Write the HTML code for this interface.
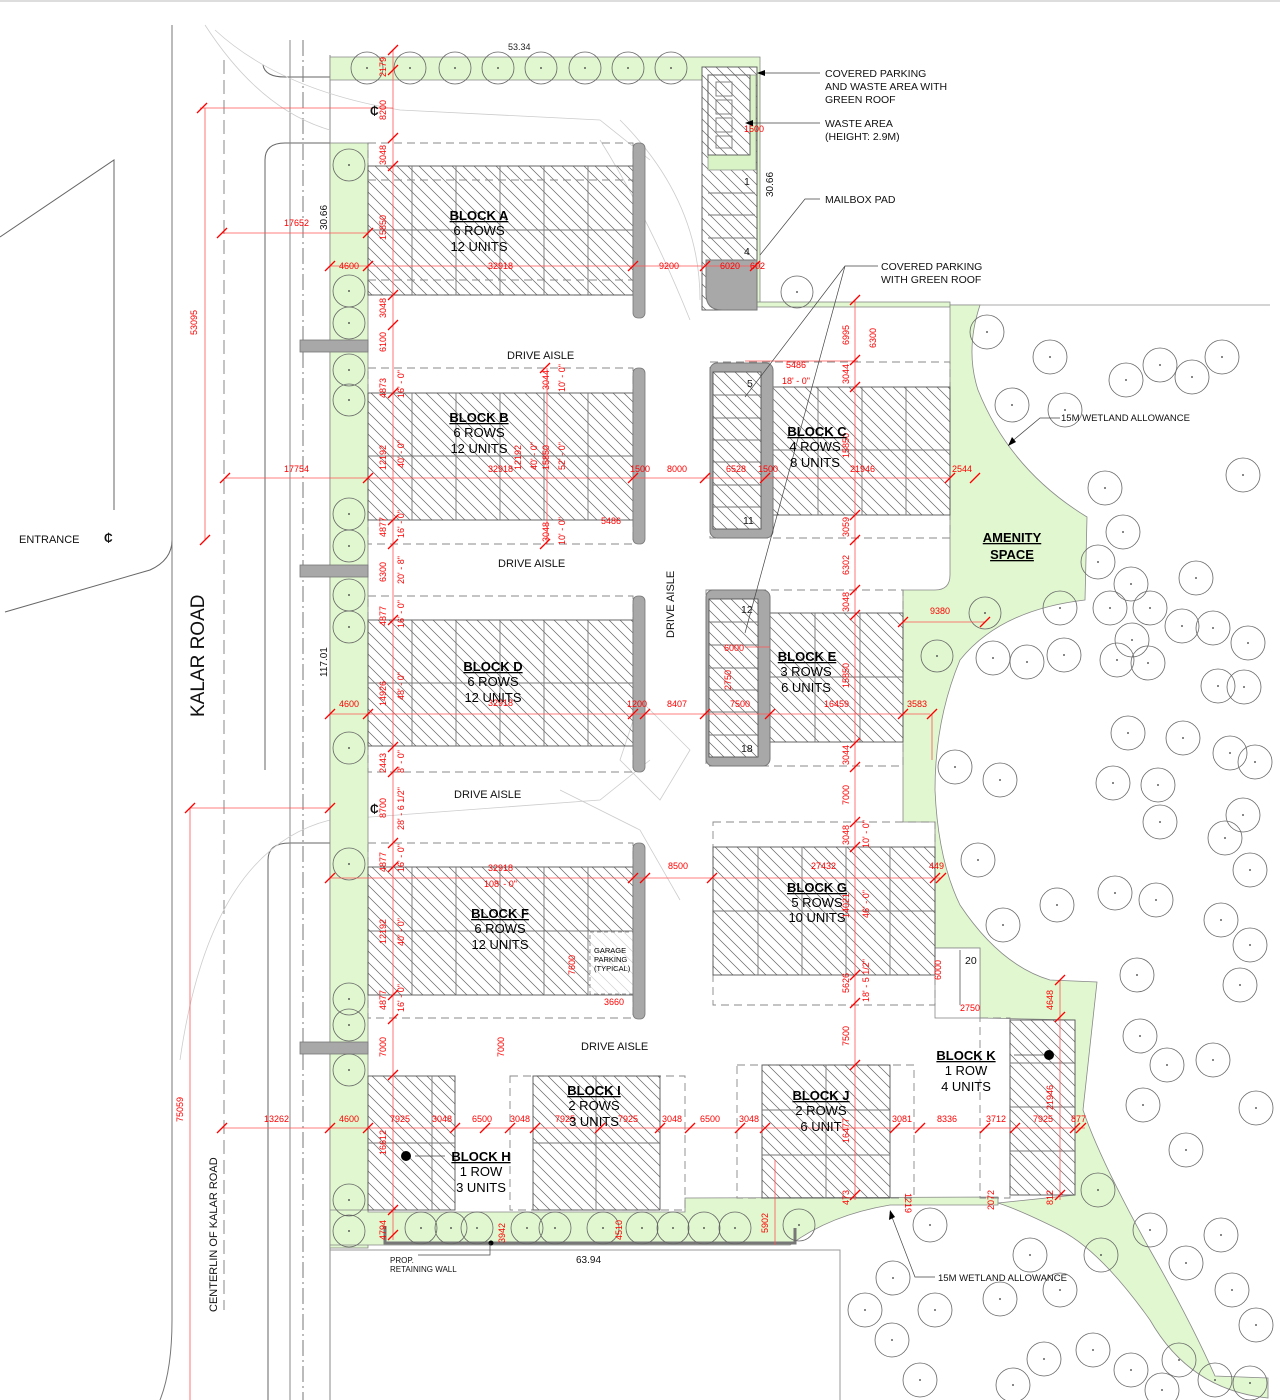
<!DOCTYPE html>
<html><head><meta charset="utf-8"><style>
html,body{margin:0;padding:0;background:#fff;}
svg{display:block;font-family:"Liberation Sans",sans-serif;}
.d{fill:#f00;font-size:9px;}
.dl{stroke:#f55;stroke-width:0.8;fill:none;}
.tk{stroke:#f00;stroke-width:1.3;}
.bt{font-size:13px;font-weight:bold;text-decoration:underline;}
.bs{font-size:13px;}
.lb{font-size:10.5px;fill:#111;}
.g{fill:#e0f7cf;stroke:#888;stroke-width:0.8;}
.bl{fill:url(#h);stroke:#555;stroke-width:0.9;}
.gr{stroke:#777;stroke-width:0.9;fill:none;}
.ds{stroke:#888;stroke-width:0.9;fill:none;stroke-dasharray:8 5;}
.rd{stroke:#666;stroke-width:1;fill:none;}
.gy{fill:#a8a8a8;stroke:#777;stroke-width:0.8;}
</style></head><body>
<svg width="1280" height="1400" viewBox="0 0 1280 1400" xmlns="http://www.w3.org/2000/svg">
<defs>
<pattern id="h" patternUnits="userSpaceOnUse" width="11" height="11">
<path d="M-2,-2 L13,13 M-2,9 L2,13 M9,-2 L13,2" stroke="#666" stroke-width="0.7"/>
</pattern>
<g id="t"><circle r="16" fill="none" stroke="#666" stroke-width="0.8"/><circle r="0.9" fill="#333"/></g>
<g id="s"><circle r="17" fill="none" stroke="#666" stroke-width="0.8"/><circle r="0.9" fill="#333"/></g>
</defs>
<line x1="0" y1="1" x2="1280" y2="1" stroke="#bbb"/>

<!-- road lines -->
<path class="rd" d="M0,237 L114,160 L114,510"/>
<path class="rd" d="M5,612 L150,570 Q172,560 172,540"/>
<line x1="172" y1="25" x2="172" y2="1320" stroke="#777"/>
<path d="M172,1320 Q172,1370 160,1400" stroke="#777" fill="none"/>
<line x1="224" y1="60" x2="224" y2="1310" stroke="#888" stroke-dasharray="14 6"/>
<path class="rd" d="M265,770 L265,160 Q265,143 285,143 L330,143"/>
<path class="rd" d="M268,1400 L268,860 Q268,843 290,843 L330,843"/>
<path class="rd" d="M263,65 Q265,77 285,77 L330,77"/>
<line x1="290" y1="40" x2="290" y2="1400" stroke="#888"/>
<line x1="303" y1="40" x2="303" y2="1400" stroke="#777" stroke-dasharray="16 4 2 4"/>
<line x1="330" y1="55" x2="330" y2="1400" stroke="#888"/>
<path d="M330,1250 L840,1250 L840,1400" stroke="#999" fill="none"/>
<line x1="760" y1="305" x2="1270" y2="305" stroke="#aaa"/>
<!-- faint turning templates -->
<g stroke="#ccc" fill="none" stroke-width="0.8">
<path d="M205,25 Q260,110 330,130 M215,30 Q280,90 400,110 L600,120 L650,160"/>
<path d="M600,140 Q650,220 690,320 M620,120 Q700,200 700,300"/>
<path d="M180,1060 Q210,850 330,820 L600,800 L650,760 M560,790 L640,830 L680,900"/>
<path d="M640,700 L690,750 L660,800 L620,760 Z"/>
</g>

<!-- green areas -->
<path class="g" d="M330,57 L760,57 L760,305 L757,305 L757,80 L330,80 Z"/>
<rect class="g" x="330" y="143" width="38" height="1105"/>
<path class="g" d="M330,1210 L368,1210 L368,1212 L685,1212 L685,1198 L998,1197 L998,1205 L890,1205 Q830,1215 790,1245 L330,1245 Z"/>
<rect class="g" x="757" y="302" width="193" height="5"/>
<path class="g" d="M950,305 L980,305 Q965,350 978,390 Q1010,470 1087,517 L1085,600 Q1000,610 960,660 Q935,720 935,790 Q938,860 960,905 Q1000,965 1050,980 L1097,982 L1083,1110 Q1100,1160 1150,1250 Q1190,1320 1215,1376 L1268,1378 L1268,1398 Q1190,1390 1150,1320 Q1100,1250 1060,1230 Q1020,1210 998,1203 L1075,1195 L1075,1020 L980,1018 L980,948 L935,948 L935,822 L903,822 L903,590 L935,590 Q950,590 950,575 Z"/>
<!-- notch by 20 -->
<rect x="935" y="948" width="45" height="70" fill="#fff" stroke="#888" stroke-width="0.8"/>
<line x1="960" y1="950" x2="960" y2="1005" stroke="#777"/>
<text x="965" y="964" class="lb" font-size="11">20</text>

<!-- Block A -->
<rect class="ds" x="368" y="143" width="265" height="152"/>
<rect class="bl" x="368" y="166" width="265" height="129"/>
<g class="gr"><path d="M412,166V295M456,166V295M500,166V295M544,166V295M588,166V295M368,230H633"/></g>
<path class="ds" d="M368,180H633M368,280H633"/>
<rect class="gy" x="633" y="143" width="12" height="175" rx="5"/>
<!-- Block B -->
<rect class="ds" x="368" y="368" width="265" height="176"/>
<rect class="bl" x="368" y="393" width="265" height="127"/>
<g class="gr"><path d="M412,393V520M456,393V520M500,393V520M544,393V520M588,393V520M368,456H633"/></g>
<rect class="gy" x="633" y="368" width="12" height="176" rx="5"/>
<!-- Block D -->
<rect class="ds" x="368" y="596" width="265" height="176"/>
<rect class="bl" x="368" y="620" width="265" height="126"/>
<g class="gr"><path d="M412,620V746M456,620V746M500,620V746M544,620V746M588,620V746M368,683H633"/></g>
<rect class="gy" x="633" y="596" width="12" height="176" rx="5"/>
<!-- Block F -->
<rect class="ds" x="368" y="843" width="265" height="175"/>
<rect class="bl" x="368" y="867" width="265" height="128"/>
<g class="gr"><path d="M412,867V995M456,867V995M500,867V995M544,867V995M588,867V995M368,931H633"/></g>
<rect x="590" y="932" width="43" height="62" fill="#fff" fill-opacity="0.7" stroke="#999" stroke-dasharray="4 3"/>
<text x="594" y="953" font-size="7.5">GARAGE</text><text x="594" y="962" font-size="7.5">PARKING</text><text x="594" y="971" font-size="7.5">(TYPICAL)</text>
<rect class="gy" x="633" y="843" width="12" height="176" rx="5"/>
<!-- Block C -->
<rect class="ds" x="710" y="362" width="240" height="176"/>
<rect class="bl" x="773" y="387" width="177" height="128"/>
<g class="gr"><path d="M818,387V515M862,387V515M906,387V515M773,450H950"/></g>
<rect x="710" y="363" width="63" height="175" rx="7" fill="#a8a8a8" stroke="#777"/>
<rect x="713" y="372" width="48" height="157" fill="#fff"/>
<rect class="bl" x="713" y="372" width="48" height="157"/>
<g class="gr"><path d="M713,395H761M713,418H761M713,440H761M713,462H761M713,485H761M713,507H761"/></g>
<text x="747" y="387" class="lb">5</text><text x="743" y="524" class="lb">11</text>
<!-- Block E -->
<rect class="ds" x="706" y="590" width="197" height="176"/>
<rect class="bl" x="770" y="613" width="133" height="129"/>
<g class="gr"><path d="M815,613V742M860,613V742M770,677H903"/></g>
<rect x="706" y="590" width="64" height="176" rx="7" fill="#a8a8a8" stroke="#777"/>
<rect x="709" y="599" width="49" height="158" fill="#fff"/>
<rect class="bl" x="709" y="599" width="49" height="158"/>
<g class="gr"><path d="M709,622H758M709,645H758M709,668H758M709,690H758M709,712H758M709,735H758"/></g>
<text x="741" y="613" class="lb">12</text><text x="741" y="752" class="lb">18</text>
<!-- Block G -->
<rect class="ds" x="713" y="822" width="222" height="183"/>
<rect class="bl" x="713" y="847" width="222" height="128"/>
<g class="gr"><path d="M758,847V975M802,847V975M846,847V975M890,847V975M713,911H935"/></g>
<!-- Block H -->
<rect x="368" y="1076" width="87" height="134" fill="#fff"/>
<rect class="bl" x="368" y="1076" width="87" height="134"/>
<g class="gr"><path d="M368,1143H455M432,1076V1210"/></g>
<circle cx="406" cy="1156" r="5" fill="#000"/>
<!-- Block I -->
<rect class="ds" x="510" y="1076" width="175" height="134"/>
<rect class="bl" x="533" y="1076" width="127" height="134"/>
<g class="gr"><path d="M596,1076V1210M533,1143H660"/></g>
<!-- Block J -->
<rect class="ds" x="737" y="1065" width="177" height="133"/>
<rect class="bl" x="762" y="1065" width="128" height="133"/>
<g class="gr"><path d="M826,1065V1198M762,1110H890M762,1155H890"/></g>
<!-- Block K -->
<rect x="1010" y="1020" width="65" height="175" fill="#fff"/>
<rect class="ds" x="980" y="1018" width="30" height="180"/>
<rect class="bl" x="1010" y="1020" width="65" height="175"/>
<g class="gr"><path d="M1010,1063H1075M1010,1107H1075M1010,1151H1075"/></g>
<circle cx="1049" cy="1055" r="5" fill="#000"/>
<!-- waste/covered parking building -->
<rect x="702" y="67" width="55" height="243" fill="#fff"/>
<rect class="bl" x="702" y="67" width="55" height="243"/>
<rect x="708" y="75" width="48" height="95" fill="#d9f3c6" stroke="#888" stroke-width="0.7"/>
<rect x="708" y="75" width="42" height="80" fill="#fff"/>
<rect class="bl" x="708" y="75" width="42" height="80"/>
<g class="gr"><rect x="716" y="82" width="16" height="14"/><rect x="716" y="100" width="16" height="14"/><rect x="716" y="118" width="16" height="14"/><rect x="716" y="136" width="16" height="12"/></g>
<path class="gr" d="M708,193H755M708,215H755M708,238H755"/>
<text x="744" y="185" class="lb">1</text><text x="744" y="255" class="lb">4</text>
<path d="M706,260 H757 V310 H722 Q706,310 706,294 Z" fill="#a8a8a8" stroke="#777"/>
<!-- walkways -->
<rect class="gy" x="300" y="340" width="68" height="12"/>
<rect class="gy" x="300" y="565" width="68" height="12"/>
<rect class="gy" x="300" y="1042" width="68" height="12"/>
<!-- retaining wall -->
<path d="M385,1226 V1243 H795 V1228" stroke="#777" stroke-width="3" fill="none"/>
<circle cx="491" cy="1243" r="2.5" fill="#000"/>

<!-- trees -->
<g>
<use href="#t" x="367" y="68"/><use href="#t" x="410" y="68"/><use href="#t" x="455" y="68"/><use href="#t" x="498" y="68"/><use href="#t" x="541" y="68"/><use href="#t" x="585" y="68"/><use href="#t" x="628" y="68"/><use href="#t" x="671" y="68"/>
<use href="#t" x="349" y="165"/><use href="#t" x="349" y="291"/><use href="#t" x="349" y="323"/><use href="#t" x="349" y="370"/><use href="#t" x="349" y="400"/><use href="#t" x="349" y="514"/><use href="#t" x="349" y="546"/><use href="#t" x="349" y="595"/><use href="#t" x="349" y="627"/><use href="#t" x="349" y="748"/><use href="#t" x="349" y="864"/><use href="#t" x="349" y="999"/><use href="#t" x="349" y="1025"/><use href="#t" x="349" y="1070"/><use href="#t" x="349" y="1200"/><use href="#t" x="349" y="1231"/>
<use href="#t" x="421" y="1228"/><use href="#t" x="451" y="1228"/><use href="#t" x="477" y="1228"/><use href="#t" x="527" y="1228"/><use href="#t" x="555" y="1228"/><use href="#t" x="603" y="1228"/><use href="#t" x="642" y="1228"/><use href="#t" x="673" y="1228"/><use href="#t" x="704" y="1228"/><use href="#t" x="735" y="1228"/>
<use href="#t" x="797" y="292"/><use href="#t" x="799" y="1225"/><use href="#t" x="937" y="656"/><use href="#t" x="985" y="613"/>
</g>
<g>
<use href="#s" x="987" y="332"/><use href="#s" x="1050" y="357"/><use href="#s" x="1222" y="357"/><use href="#s" x="1160" y="365"/><use href="#s" x="1192" y="377"/><use href="#s" x="1126" y="380"/><use href="#s" x="1012" y="405"/><use href="#s" x="1065" y="410"/><use href="#s" x="1105" y="488"/><use href="#s" x="1243" y="475"/><use href="#s" x="1123" y="532"/><use href="#s" x="1196" y="578"/><use href="#s" x="1098" y="562"/><use href="#s" x="1131" y="584"/><use href="#s" x="1060" y="608"/><use href="#s" x="1110" y="608"/><use href="#s" x="1150" y="608"/><use href="#s" x="1213" y="628"/><use href="#s" x="1248" y="643"/><use href="#s" x="1182" y="626"/><use href="#s" x="1132" y="640"/><use href="#s" x="1244" y="687"/><use href="#s" x="993" y="658"/><use href="#s" x="1027" y="662"/><use href="#s" x="1064" y="655"/><use href="#s" x="1117" y="660"/><use href="#s" x="1148" y="663"/><use href="#s" x="1218" y="686"/><use href="#s" x="1128" y="733"/><use href="#s" x="1183" y="738"/><use href="#s" x="1230" y="753"/><use href="#s" x="1255" y="762"/><use href="#s" x="955" y="767"/><use href="#s" x="1000" y="780"/><use href="#s" x="1113" y="783"/><use href="#s" x="1158" y="785"/><use href="#s" x="1243" y="815"/><use href="#s" x="1225" y="838"/><use href="#s" x="1160" y="822"/><use href="#s" x="1250" y="870"/><use href="#s" x="978" y="860"/><use href="#s" x="1057" y="905"/><use href="#s" x="1115" y="893"/><use href="#s" x="1156" y="900"/><use href="#s" x="1003" y="925"/><use href="#s" x="1137" y="975"/><use href="#s" x="1221" y="920"/><use href="#s" x="1250" y="945"/><use href="#s" x="1240" y="985"/><use href="#s" x="1140" y="1036"/><use href="#s" x="1167" y="1065"/><use href="#s" x="1213" y="1060"/><use href="#s" x="1143" y="1105"/><use href="#s" x="1186" y="1150"/><use href="#s" x="1256" y="1108"/><use href="#s" x="1221" y="1235"/><use href="#s" x="1186" y="1263"/><use href="#s" x="1232" y="1290"/><use href="#s" x="1098" y="1190"/><use href="#s" x="1030" y="1255"/><use href="#s" x="1101" y="1255"/><use href="#s" x="1150" y="1230"/><use href="#s" x="1179" y="1360"/><use href="#s" x="1256" y="1325"/><use href="#s" x="930" y="1225"/><use href="#s" x="893" y="1278"/><use href="#s" x="935" y="1310"/><use href="#s" x="1000" y="1299"/><use href="#s" x="1060" y="1290"/><use href="#s" x="865" y="1310"/><use href="#s" x="892" y="1340"/><use href="#s" x="1044" y="1359"/><use href="#s" x="1162" y="1390"/><use href="#s" x="1215" y="1380"/><use href="#s" x="1250" y="1383"/><use href="#s" x="920" y="1380"/><use href="#s" x="1013" y="1385"/><use href="#s" x="1131" y="1370"/><use href="#s" x="1093" y="1350"/>
</g>

<!-- red dimension lines -->
<g class="dl">
<path d="M393,50V1240"/>
<path d="M200,108H393 M205,108V540"/>
<path d="M222,233H368 M225,478H950 M330,266H760 M330,714H930 M190,808H330 M190,808V1400"/>
<path d="M222,1128H1085"/>
<path d="M330,878H940"/>
<path d="M855,300V1200"/>
<path d="M547,368V544 M745,361H858 M745,647H770"/>
<path d="M903,622H985 M932,714V760"/>
<path d="M1060,980V1200"/>
<path d="M775,1160V1245"/>
</g>
<g class="tk">
<path d="M388,55l10,-10M388,75l10,-10M388,143l10,-10M388,171l10,-10M388,300l10,-10M388,330l10,-10M388,398l10,-10M388,525l10,-10M388,549l10,-10M388,625l10,-10M388,752l10,-10M388,777l10,-10M388,848l10,-10M388,872l10,-10M388,1000l10,-10M388,1024l10,-10M388,1080l10,-10M388,1215l10,-10M388,1240l10,-10"/>
<path d="M197,113l10,-10M200,545l10,-10M217,238l10,-10M363,238l10,-10M325,271l10,-10M363,271l10,-10M628,271l10,-10M700,271l10,-10M750,271l10,-10M220,483l10,-10M363,483l10,-10M628,483l10,-10M700,483l10,-10M760,483l10,-10M945,483l10,-10M970,483l10,-10"/>
<path d="M325,719l10,-10M363,719l10,-10M628,719l10,-10M640,719l10,-10M700,719l10,-10M765,719l10,-10M898,719l10,-10M927,719l10,-10M185,813l10,-10M325,813l10,-10"/>
<path d="M217,1133l10,-10M325,1133l10,-10M363,1133l10,-10M450,1133l10,-10M480,1133l10,-10M505,1133l10,-10M530,1133l10,-10M595,1133l10,-10M655,1133l10,-10M685,1133l10,-10M735,1133l10,-10M760,1133l10,-10M890,1133l10,-10M915,1133l10,-10M980,1133l10,-10M1010,1133l10,-10M1070,1133l10,-10M1076,1133l10,-10"/>
<path d="M325,883l10,-10M628,883l10,-10M640,883l10,-10M707,883l10,-10M930,883l10,-10M936,883l10,-10"/>
<path d="M850,305l10,-10M850,365l10,-10M850,392l10,-10M850,520l10,-10M850,545l10,-10M850,595l10,-10M850,620l10,-10M850,748l10,-10M850,772l10,-10M850,827l10,-10M850,852l10,-10M850,980l10,-10M850,1008l10,-10M850,1070l10,-10M850,1200l10,-10"/>
<path d="M898,627l10,-10M980,627l10,-10M1055,985l10,-10M1055,1022l10,-10M1055,1200l10,-10M540,373l10,-10M540,549l10,-10"/>
</g>

<!-- dimension labels -->
<g class="d">
<text x="508" y="50" fill="#222">53.34</text>
<text transform="translate(386,77) rotate(-90)">2179</text>
<text transform="translate(386,120) rotate(-90)">8200</text>
<text transform="translate(386,165) rotate(-90)">3048</text>
<text transform="translate(386,240) rotate(-90)">15850</text>
<text transform="translate(386,318) rotate(-90)">3048</text>
<text transform="translate(386,352) rotate(-90)">6100</text>
<text transform="translate(386,398) rotate(-90)">4873</text>
<text transform="translate(386,470) rotate(-90)">12192</text>
<text transform="translate(386,537) rotate(-90)">4877</text>
<text transform="translate(386,582) rotate(-90)">6300</text>
<text transform="translate(386,626) rotate(-90)">4877</text>
<text transform="translate(386,706) rotate(-90)">14926</text>
<text transform="translate(386,773) rotate(-90)">2443</text>
<text transform="translate(386,818) rotate(-90)">8700</text>
<text transform="translate(386,872) rotate(-90)">4877</text>
<text transform="translate(386,944) rotate(-90)">12192</text>
<text transform="translate(386,1010) rotate(-90)">4877</text>
<text transform="translate(386,1057) rotate(-90)">7000</text>
<text transform="translate(386,1155) rotate(-90)">16612</text>
<text transform="translate(386,1240) rotate(-90)">4794</text>
<text transform="translate(404,398) rotate(-90)">16' - 0"</text>
<text transform="translate(404,468) rotate(-90)">40' - 0"</text>
<text transform="translate(404,538) rotate(-90)">16' - 0"</text>
<text transform="translate(404,584) rotate(-90)">20' - 8"</text>
<text transform="translate(404,628) rotate(-90)">16' - 0"</text>
<text transform="translate(404,700) rotate(-90)">48' - 0"</text>
<text transform="translate(404,773) rotate(-90)">8' - 0"</text>
<text transform="translate(404,830) rotate(-90)">28' - 6 1/2"</text>
<text transform="translate(404,872) rotate(-90)">16' - 0"</text>
<text transform="translate(404,946) rotate(-90)">40' - 0"</text>
<text transform="translate(404,1012) rotate(-90)">16' - 0"</text>
<text transform="translate(197,335) rotate(-90)">53095</text>
<text transform="translate(183,1122) rotate(-90)">75059</text>
<text x="284" y="226">17652</text><text x="284" y="472">17754</text>
<text x="339" y="269">4600</text><text x="339" y="707">4600</text><text x="339" y="1122">4600</text><text x="264" y="1122">13262</text>
<text x="488" y="269">32918</text><text x="488" y="472">32918</text><text x="488" y="706">32918</text><text x="488" y="871">32918</text><text x="484" y="887">108' - 0"</text>
<text x="659" y="269">9200</text><text x="720" y="269">6020</text><text x="750" y="269">602</text>
<text x="744" y="132">1500</text>
<text x="630" y="472">1500</text><text x="667" y="472">8000</text><text x="726" y="472">6528</text><text x="758" y="472">1500</text><text x="850" y="472">21946</text><text x="952" y="472">2544</text>
<text x="601" y="524">5486</text>
<text transform="translate(549,390) rotate(-90)">3044</text>
<text transform="translate(565,392) rotate(-90)">10' - 0"</text>
<text transform="translate(521,470) rotate(-90)">12192</text>
<text transform="translate(537,470) rotate(-90)">40' - 0"</text>
<text transform="translate(549,470) rotate(-90)">15850</text>
<text transform="translate(565,470) rotate(-90)">52' - 0"</text>
<text transform="translate(549,542) rotate(-90)">3048</text>
<text transform="translate(565,545) rotate(-90)">10' - 0"</text>
<text x="786" y="368">5486</text><text x="782" y="384">18' - 0"</text>
<text transform="translate(849,345) rotate(-90)">6995</text>
<text transform="translate(876,348) rotate(-90)">6300</text>
<text transform="translate(849,384) rotate(-90)">3044</text>
<text transform="translate(849,458) rotate(-90)">15850</text>
<text transform="translate(849,537) rotate(-90)">3059</text>
<text transform="translate(849,575) rotate(-90)">6302</text>
<text transform="translate(849,612) rotate(-90)">3048</text>
<text transform="translate(849,688) rotate(-90)">15850</text>
<text transform="translate(849,765) rotate(-90)">3044</text>
<text transform="translate(849,805) rotate(-90)">7000</text>
<text transform="translate(849,845) rotate(-90)">3048</text>
<text transform="translate(849,918) rotate(-90)">14021</text>
<text transform="translate(849,993) rotate(-90)">5626</text>
<text transform="translate(849,1046) rotate(-90)">7500</text>
<text transform="translate(849,1143) rotate(-90)">16477</text>
<text transform="translate(849,1205) rotate(-90)">473</text>
<text transform="translate(869,848) rotate(-90)">10' - 0"</text>
<text transform="translate(869,918) rotate(-90)">46' - 0"</text>
<text transform="translate(869,1002) rotate(-90)">18' - 5 1/2"</text>
<text x="930" y="614">9380</text><text x="907" y="707">3583</text>
<text x="724" y="651">6000</text>
<text transform="translate(731,690) rotate(-90)">2750</text>
<text x="730" y="707">7500</text><text x="824" y="707">16459</text>
<text x="627" y="707">1200</text><text x="667" y="707">8407</text>
<text x="668" y="869">8500</text><text x="811" y="869">27432</text><text x="929" y="869">449</text>
<text transform="translate(575,975) rotate(-90)">7600</text>
<text x="604" y="1005">3660</text>
<text transform="translate(941,980) rotate(-90)">6000</text>
<text x="960" y="1011">2750</text>
<text transform="translate(1053,1010) rotate(-90)">4648</text>
<text transform="translate(1053,1110) rotate(-90)">21946</text>
<text transform="translate(1053,1205) rotate(-90)">812</text>
<text transform="translate(994,1210) rotate(-90)">2072</text>
<text transform="translate(905,1193) rotate(90)">1219</text>
<text transform="translate(504,1057) rotate(-90)">7000</text>
<text x="390" y="1122">7925</text><text x="432" y="1122">3048</text><text x="472" y="1122">6500</text><text x="510" y="1122">3048</text><text x="555" y="1122">7925</text><text x="618" y="1122">7925</text><text x="662" y="1122">3048</text><text x="700" y="1122">6500</text><text x="739" y="1122">3048</text><text x="892" y="1122">3081</text><text x="937" y="1122">8336</text><text x="986" y="1122">3712</text><text x="1033" y="1122">7925</text><text x="1071" y="1122">877</text>
<text transform="translate(505,1243) rotate(-90)">3942</text>
<text transform="translate(622,1240) rotate(-90)">4510</text>
<text transform="translate(768,1233) rotate(-90)">5902</text>
</g>

<!-- black labels -->
<g class="lb">
<text transform="translate(327,230) rotate(-90)" font-size="10">30.66</text>
<text transform="translate(773,197) rotate(-90)" font-size="10">30.66</text>
<text transform="translate(327,677) rotate(-90)" font-size="10">117.01</text>
<text x="576" y="1263" font-size="10">63.94</text>
<text x="370" y="115" font-size="12" font-weight="bold">₵</text>
<text x="370" y="813" font-size="12" font-weight="bold">₵</text>
<text x="104" y="542" font-size="12" font-weight="bold">₵</text>
<text x="19" y="543" font-size="11">ENTRANCE</text>
<text x="507" y="359" font-size="11">DRIVE AISLE</text>
<text x="498" y="567" font-size="11">DRIVE AISLE</text>
<text x="454" y="798" font-size="11">DRIVE AISLE</text>
<text x="581" y="1050" font-size="11">DRIVE AISLE</text>
<text transform="translate(674,638) rotate(-90)" font-size="11">DRIVE AISLE</text>
<text transform="translate(204,717) rotate(-90)" font-size="19">KALAR  ROAD</text>
<text transform="translate(217,1312) rotate(-90)" font-size="11">CENTERLIN OF KALAR ROAD</text>
<text x="825" y="77">COVERED PARKING</text><text x="825" y="90">AND WASTE AREA WITH</text><text x="825" y="103">GREEN ROOF</text>
<text x="825" y="127">WASTE AREA</text><text x="825" y="140">(HEIGHT: 2.9M)</text>
<text x="825" y="203">MAILBOX PAD</text>
<text x="881" y="270">COVERED PARKING</text><text x="881" y="283">WITH GREEN ROOF</text>
<text x="1061" y="421" font-size="9.5">15M WETLAND ALLOWANCE</text>
<text x="938" y="1281" font-size="9.5">15M WETLAND ALLOWANCE</text>
<text x="390" y="1263" font-size="8">PROP.</text><text x="390" y="1272" font-size="8">RETAINING WALL</text>
</g>
<!-- leader lines -->
<g stroke="#444" stroke-width="0.7" fill="none">
<path d="M820,73H760 M820,123H748 M820,199H805 L760,255 M878,266H845 L745,397 M845,266 L745,633 M1060,418H1040 L1010,443 M935,1277H915 L890,1212 M490,1243V1255H418 M415,1156H445 M1014,1055H1044"/>
</g>
<g fill="#000"><path d="M757,73l8,-3v6z M745,123l8,-3v6z M1008,446l4,-9l4,5z M890,1210l-1,10l6,-3z"/></g>

<!-- block labels -->
<g text-anchor="middle">
<text x="479" y="220" class="bt">BLOCK A</text><text x="479" y="235" class="bs">6 ROWS</text><text x="479" y="251" class="bs">12 UNITS</text>
<text x="479" y="422" class="bt">BLOCK B</text><text x="479" y="437" class="bs">6 ROWS</text><text x="479" y="453" class="bs">12 UNITS</text>
<text x="817" y="436" class="bt">BLOCK C</text><text x="815" y="451" class="bs">4 ROWS</text><text x="815" y="467" class="bs">8 UNITS</text>
<text x="493" y="671" class="bt">BLOCK D</text><text x="493" y="686" class="bs">6 ROWS</text><text x="493" y="702" class="bs">12 UNITS</text>
<text x="807" y="661" class="bt">BLOCK E</text><text x="806" y="676" class="bs">3 ROWS</text><text x="806" y="692" class="bs">6 UNITS</text>
<text x="500" y="918" class="bt">BLOCK F</text><text x="500" y="933" class="bs">6 ROWS</text><text x="500" y="949" class="bs">12 UNITS</text>
<text x="817" y="892" class="bt">BLOCK G</text><text x="817" y="907" class="bs">5 ROWS</text><text x="817" y="922" class="bs">10 UNITS</text>
<text x="1012" y="542" class="bt">AMENITY</text><text x="1012" y="559" class="bt">SPACE</text>
<text x="481" y="1161" class="bt">BLOCK H</text><text x="481" y="1176" class="bs">1 ROW</text><text x="481" y="1192" class="bs">3 UNITS</text>
<text x="594" y="1095" class="bt">BLOCK I</text><text x="594" y="1110" class="bs">2 ROWS</text><text x="594" y="1126" class="bs">3 UNITS</text>
<text x="821" y="1100" class="bt">BLOCK J</text><text x="821" y="1115" class="bs">2 ROWS</text><text x="821" y="1131" class="bs">6 UNIT</text>
<text x="966" y="1060" class="bt">BLOCK K</text><text x="966" y="1075" class="bs">1 ROW</text><text x="966" y="1091" class="bs">4 UNITS</text>
</g>
</svg>
</body></html>
